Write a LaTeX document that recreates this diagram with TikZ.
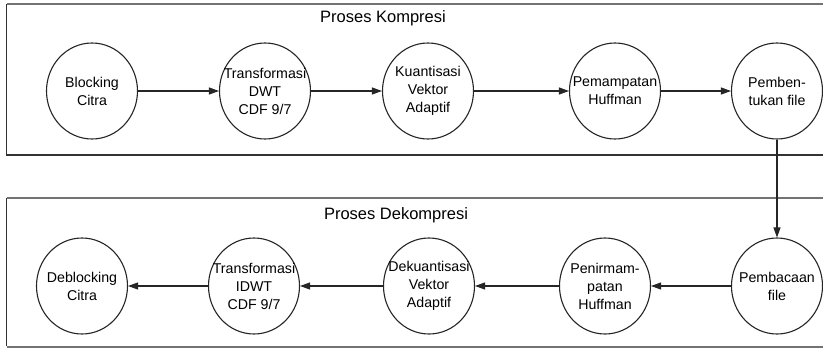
\documentclass[tikz,border=0pt]{standalone}
\usepackage{fontspec}
\setmainfont{Liberation Sans}
\usetikzlibrary{arrows.meta,shapes.geometric}
\begin{document}
\begin{tikzpicture}[x=1pt,y=-1pt,
  stage/.style={draw=black!85, line width=1.1pt, ellipse, inner sep=0pt,
    minimum width=91pt, minimum height=96pt},
  stagetext/.style={align=center, font=\fontsize{14.2}{18}\selectfont, inner sep=0pt},
  title/.style={font=\fontsize{16.5}{20}\selectfont, inner sep=0pt},
  flow/.style={draw=black!85, line width=1.1pt, -{Triangle[length=10pt,width=7pt]}},
  frameside/.style={draw=black!80, line width=1.3pt},
  frametop/.style={draw=black!55, line width=2pt}
]
\useasboundingbox (0,0) rectangle (823,348);
\fill[white] (0,0) rectangle (823,348);

% compression frame
\draw[frametop] (830,4) -- (6.5,4);
\draw[frameside] (6.5,4) -- (6.5,155) -- (830,155);
\node[title] (tk) at (383,18) {Proses Kompresi};

% decompression frame
\draw[frametop] (830,198) -- (6.5,198);
\draw[frameside] (6.5,198) -- (6.5,346);
\draw[frametop] (6.5,346.5) -- (830,346.5);
\node[title] (td) at (396,215) {Proses Dekompresi};

% compression stages
\node[stage] (c1) at (92,91) {};
\node[stage] (c2) at (265,91) {};
\node[stage] (c3) at (428,91) {};
\node[stage] (c4) at (615,91) {};
\node[stage] (c5) at (777,91) {};
\node[stagetext] at (c1) {Blocking\\Citra};
\node[stagetext] at (c2) {Transformasi\\DWT\\CDF 9/7};
\node[stagetext] at (c3) {Kuantisasi\\Vektor\\Adaptif};
\node[stagetext] at (c4) {Pemampatan\\Huffman};
\node[stagetext] at (c5) {Pemben-\\tukan file};

% decompression stages
\node[stage] (d1) at (82,286) {};
\node[stage] (d2) at (254,286) {};
\node[stage] (d3) at (429,286) {};
\node[stage] (d4) at (605,286) {};
\node[stage] (d5) at (777,286) {};
\node[stagetext] at (d1) {Deblocking\\Citra};
\node[stagetext] at (d2) {Transformasi\\IDWT\\CDF 9/7};
\node[stagetext] at (d3) {Dekuantisasi\\Vektor\\Adaptif};
\node[stagetext] at (d4) {Penirmam-\\patan\\Huffman};
\node[stagetext] at (d5) {Pembacaan\\file};

% connectors
\draw[flow] (c1.east) -- (c2.west);
\draw[flow] (c2.east) -- (c3.west);
\draw[flow] (c3.east) -- (c4.west);
\draw[flow] (c4.east) -- (c5.west);
\draw[flow] (c5.south) -- (d5.north);
\draw[flow] (d5.west) -- (d4.east);
\draw[flow] (d4.west) -- (d3.east);
\draw[flow] (d3.west) -- (d2.east);
\draw[flow] (d2.west) -- (d1.east);
\end{tikzpicture}
\end{document}
